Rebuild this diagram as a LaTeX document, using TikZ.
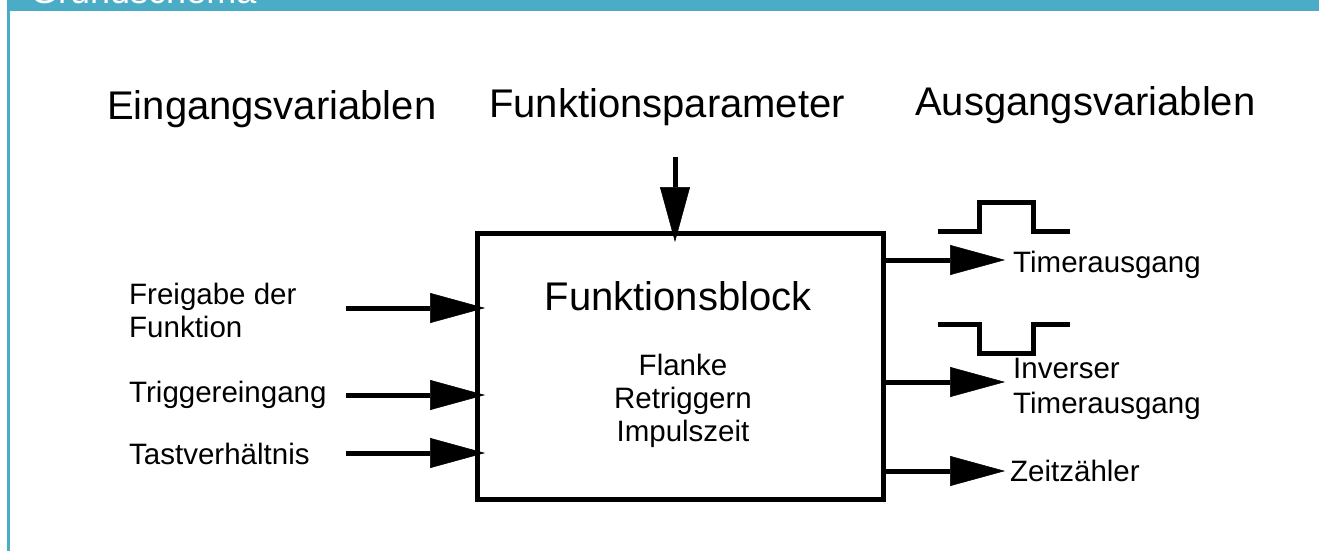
\documentclass[tikz,border=0pt]{standalone}
\usepackage{fontspec}
\setmainfont{Liberation Sans}
\usetikzlibrary{arrows.meta}
\definecolor{hdr}{RGB}{75,172,198}
\begin{document}
\begin{tikzpicture}[x=1pt,y=-1pt,
  big/.style={font=\fontsize{40}{48}\selectfont, inner sep=0pt, anchor=base west},
  lbl/.style={font=\fontsize{29.5}{33}\selectfont, inner sep=0pt, anchor=base west, align=left},
  arr/.style={line width=5pt, -{Triangle[length=55pt,width=30pt,line width=0.5pt]}},
  wave/.style={line width=5pt, line join=miter}]
\useasboundingbox (0,0) rectangle (1319,551);
\clip (0,0) rectangle (1319,551);
\fill[white] (0,0) rectangle (1319,551);
% header
\fill[hdr] (7,0) rectangle (1319,11);
\draw[hdr, line width=2.5pt] (8.25,0) -- (8.25,551);
\node[font=\fontsize{36}{40}\selectfont, text=white, inner sep=0pt, anchor=base west] (hd) at (30,4) {Grundschema};
% titles
\node[big] (tin) at (107,119) {Eingangsvariablen};
\node[big] (tpar) at (489,117) {Funktionsparameter};
\node[big] (tout) at (915,115) {Ausgangsvariablen};
% block
\node[draw, line width=5pt, minimum width=406pt, minimum height=266pt, inner sep=0pt, outer sep=0pt] (box) at (680,366) {};
\node[big, anchor=base] (fb) at (678,310) {Funktionsblock};
\node[lbl, anchor=base, align=center] (par) at (683,441) {Flanke\\Retriggern\\Impulszeit};
% inputs
\node[lbl] (l1) at (129,337) {Freigabe der\\Funktion};
\node[lbl] (l2) at (129,402) {Triggereingang};
\node[lbl] (l3) at (129,464) {Tastverhältnis};
\coordinate (i1) at (346,308);
\coordinate (i2) at (346,395);
\coordinate (i3) at (346,453);
\draw[arr] (i1) -- ([xshift=8pt]box.west |- i1);
\draw[arr] (i2) -- ([xshift=8pt]box.west |- i2);
\draw[arr] (i3) -- ([xshift=8pt]box.west |- i3);
% parameter arrow
\coordinate (p0) at (675,157);
\draw[arr] (p0) -- ([yshift=-9pt]box.north -| p0);
% outputs
\coordinate (o1) at (1005,260);
\coordinate (o2) at (1005,382);
\coordinate (o3) at (1005,471);
\draw[arr] (box.east |- o1) -- (o1);
\draw[arr] (box.east |- o2) -- (o2);
\draw[arr] (box.east |- o3) -- (o3);
\node[lbl] (r1) at (1013,272) {Timerausgang};
\node[lbl, align=left] (r2) at (1013,413) {Inverser\\[2pt]Timerausgang};
\node[lbl] (r3) at (1010,481) {Zeitzähler};
% waveforms
\draw[wave] (938,231) -- (979,231) -- (979,202) -- (1033,202) -- (1033,231) -- (1070,231);
\draw[wave] (938,324) -- (979,324) -- (979,353) -- (1033,353) -- (1033,324) -- (1070,324);
\end{tikzpicture}
\end{document}
